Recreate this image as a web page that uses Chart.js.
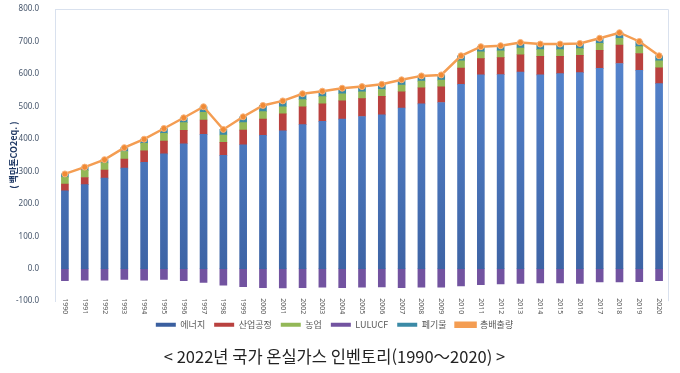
<!DOCTYPE html>
<html lang="ko">
<head>
<meta charset="utf-8">
<script src="https://cdn.jsdelivr.net/npm/chart.js@4.4.1/dist/chart.umd.min.js"></script>
<style>
  html, body { margin: 0; padding: 0; background: #fff; }
  #wrap { width: 680px; height: 373px; position: relative; }
</style>
</head>
<body>
<div id="wrap"><canvas id="grafico" width="680" height="373"></canvas></div>
<script>
// =================== DATOS ===================
const anios = ['1990','1991','1992','1993','1994','1995','1996','1997','1998','1999',
  '2000','2001','2002','2003','2004','2005','2006','2007','2008','2009',
  '2010','2011','2012','2013','2014','2015','2016','2017','2018','2019','2020'];

const energia = [240,259,279,310,328,354,385,414,349,382,411,425,444,454,461,469,474,495,508,512,568,597,598,606,597,601,604,617,632,611,570];
const industria = [21,22,25,28,35,39,41,44,40,45,50,52,55,54,56,55,57,50,49,48,50,50,52,53,57,53,53,56,57,52,49];
const agricultura = [21,22,22,23,23,24,24,24,23,23,23,22,22,22,22,21,21,21,21,21,22,21,21,21,21,21,21,21,21,21,21];
const lulucf = [-37,-35,-35,-33,-35,-33,-37,-42,-51,-55,-58,-59,-58,-57,-58,-57,-56,-58,-57,-57,-53,-49,-47,-45,-44,-44,-45,-41,-41,-40,-37];
const residuos = [10,10,10,12,13,15,15,17,17,18,19,18,18,17,17,16,16,16,16,16,16,16,16,17,17,17,16,16,17,16,16];
const total = [292,313,336,373,399,432,465,499,429,468,503,517,539,547,556,561,568,582,594,597,656,684,687,697,692,692,694,710,727,700,656];

const yTicks = [-100, 0, 100, 200, 300, 400, 500, 600, 700, 800];

// degradado vertical para dar algo del volumen de las barras
function degradado(claro, oscuro) {
  return ctx => {
    const area = ctx.chart.chartArea;
    if (!area) return claro;
    const g = ctx.chart.ctx.createLinearGradient(0, area.top, 0, area.bottom);
    g.addColorStop(0, claro);
    g.addColorStop(1, oscuro);
    return g;
  };
}

// =================== PLUGINS ===================
// marco fino del area de trazado (izq, arriba, der)
const marco = {
  id: 'marco',
  beforeDatasetsDraw(chart) {
    const { ctx, chartArea: a } = chart;
    ctx.save();
    ctx.strokeStyle = '#d9e1ee';
    ctx.lineWidth = 1;
    ctx.beginPath();
    ctx.moveTo(a.left + 0.5, a.bottom - 6);
    ctx.lineTo(a.left + 0.5, a.top + 0.5);
    ctx.lineTo(a.right - 0.5, a.top + 0.5);
    ctx.lineTo(a.right - 0.5, a.bottom);
    ctx.stroke();
    ctx.restore();
  }
};

// etiquetas del eje x giradas (lectura de arriba hacia abajo)
const etiquetasX = {
  id: 'etiquetasX',
  afterDraw(chart) {
    const { ctx } = chart;
    const xs = chart.scales.x;
    const y0 = chart.chartArea.bottom - 3;
    ctx.save();
    ctx.font = '7px "Noto Sans", sans-serif';
    ctx.fillStyle = '#595959';
    ctx.textAlign = 'left';
    ctx.textBaseline = 'middle';
    anios.forEach((lbl, i) => {
      const x = xs.getPixelForValue(i);
      ctx.save();
      ctx.translate(x, y0);
      ctx.rotate(Math.PI / 2);
      ctx.fillText(lbl, 0, 0);
      ctx.restore();
    });
    ctx.restore();
  }
};

// =================== GRAFICO ===================
const barBase = { type: 'bar', stack: 'barras', barThickness: 7, order: 1, borderWidth: 0 };

new Chart(document.getElementById('grafico'), {
  data: {
    labels: anios,
    datasets: [
      { ...barBase, label: '에너지', data: energia, backgroundColor: degradado('#5a8bd6', '#3a5f9f') },
      { ...barBase, label: '산업공정', data: industria, backgroundColor: '#b9413f' },
      { ...barBase, label: '농업', data: agricultura, backgroundColor: '#93b857' },
      { ...barBase, label: 'LULUCF', data: lulucf, backgroundColor: '#7253a0' },
      { ...barBase, label: '폐기물', data: residuos, backgroundColor: '#3b8aa6' },
      {
        type: 'line', stack: 'linea', label: '총배출량', data: total, order: 0,
        borderColor: '#f49d52', backgroundColor: '#f49d52', borderWidth: 2.5,
        pointRadius: 3, pointBackgroundColor: '#f08a35', pointBorderColor: '#f7b27a',
        pointBorderWidth: 1, tension: 0
      }
    ]
  },
  options: {
    responsive: false,
    animation: false,
    devicePixelRatio: 1,
    layout: { padding: { top: 9, left: 0, right: 11, bottom: 0 } },
    plugins: {
      tooltip: { enabled: false },
      legend: {
        position: 'bottom',
        labels: {
          boxWidth: 20, boxHeight: 4, padding: 9,
          color: '#595959',
          font: { size: 9, family: '"Noto Sans CJK KR", "Noto Sans", sans-serif' },
          sort: (a, b) => a.datasetIndex - b.datasetIndex
        }
      },
      title: {
        display: true,
        position: 'bottom',
        text: '< 2022년 국가 온실가스 인벤토리(1990～2020) >',
        color: '#222',
        font: { size: 16.5, weight: 'normal', family: '"Noto Sans CJK KR", sans-serif' },
        padding: { top: 8, bottom: 6 }
      }
    },
    scales: {
      x: {
        stacked: true,
        grid: { display: false },
        border: { display: false },
        ticks: { display: false },
        afterFit: ax => { ax.height = 10; }
      },
      y: {
        stacked: true,
        min: -100, max: 800,
        afterBuildTicks: ax => { ax.ticks = yTicks.map(v => ({ value: v })); },
        afterFit: ax => { ax.width = 55; ax.paddingTop = 0; },
        grid: { display: false },
        border: { display: true, color: '#d9e1ee' },
        ticks: { color: '#44546a', padding: 8, callback: v => v.toFixed(1),
                 font: { size: 8, family: '"Noto Sans", sans-serif' } },
        title: {
          display: true, text: '( 백만톤CO2eq. )', color: '#1f3864',
          font: { size: 9, weight: 'bold', family: '"Noto Sans CJK KR", sans-serif' },
          padding: { top: 8, bottom: 0 }
        }
      }
    }
  },
  plugins: [marco, etiquetasX]
});
</script>
</body>
</html>
